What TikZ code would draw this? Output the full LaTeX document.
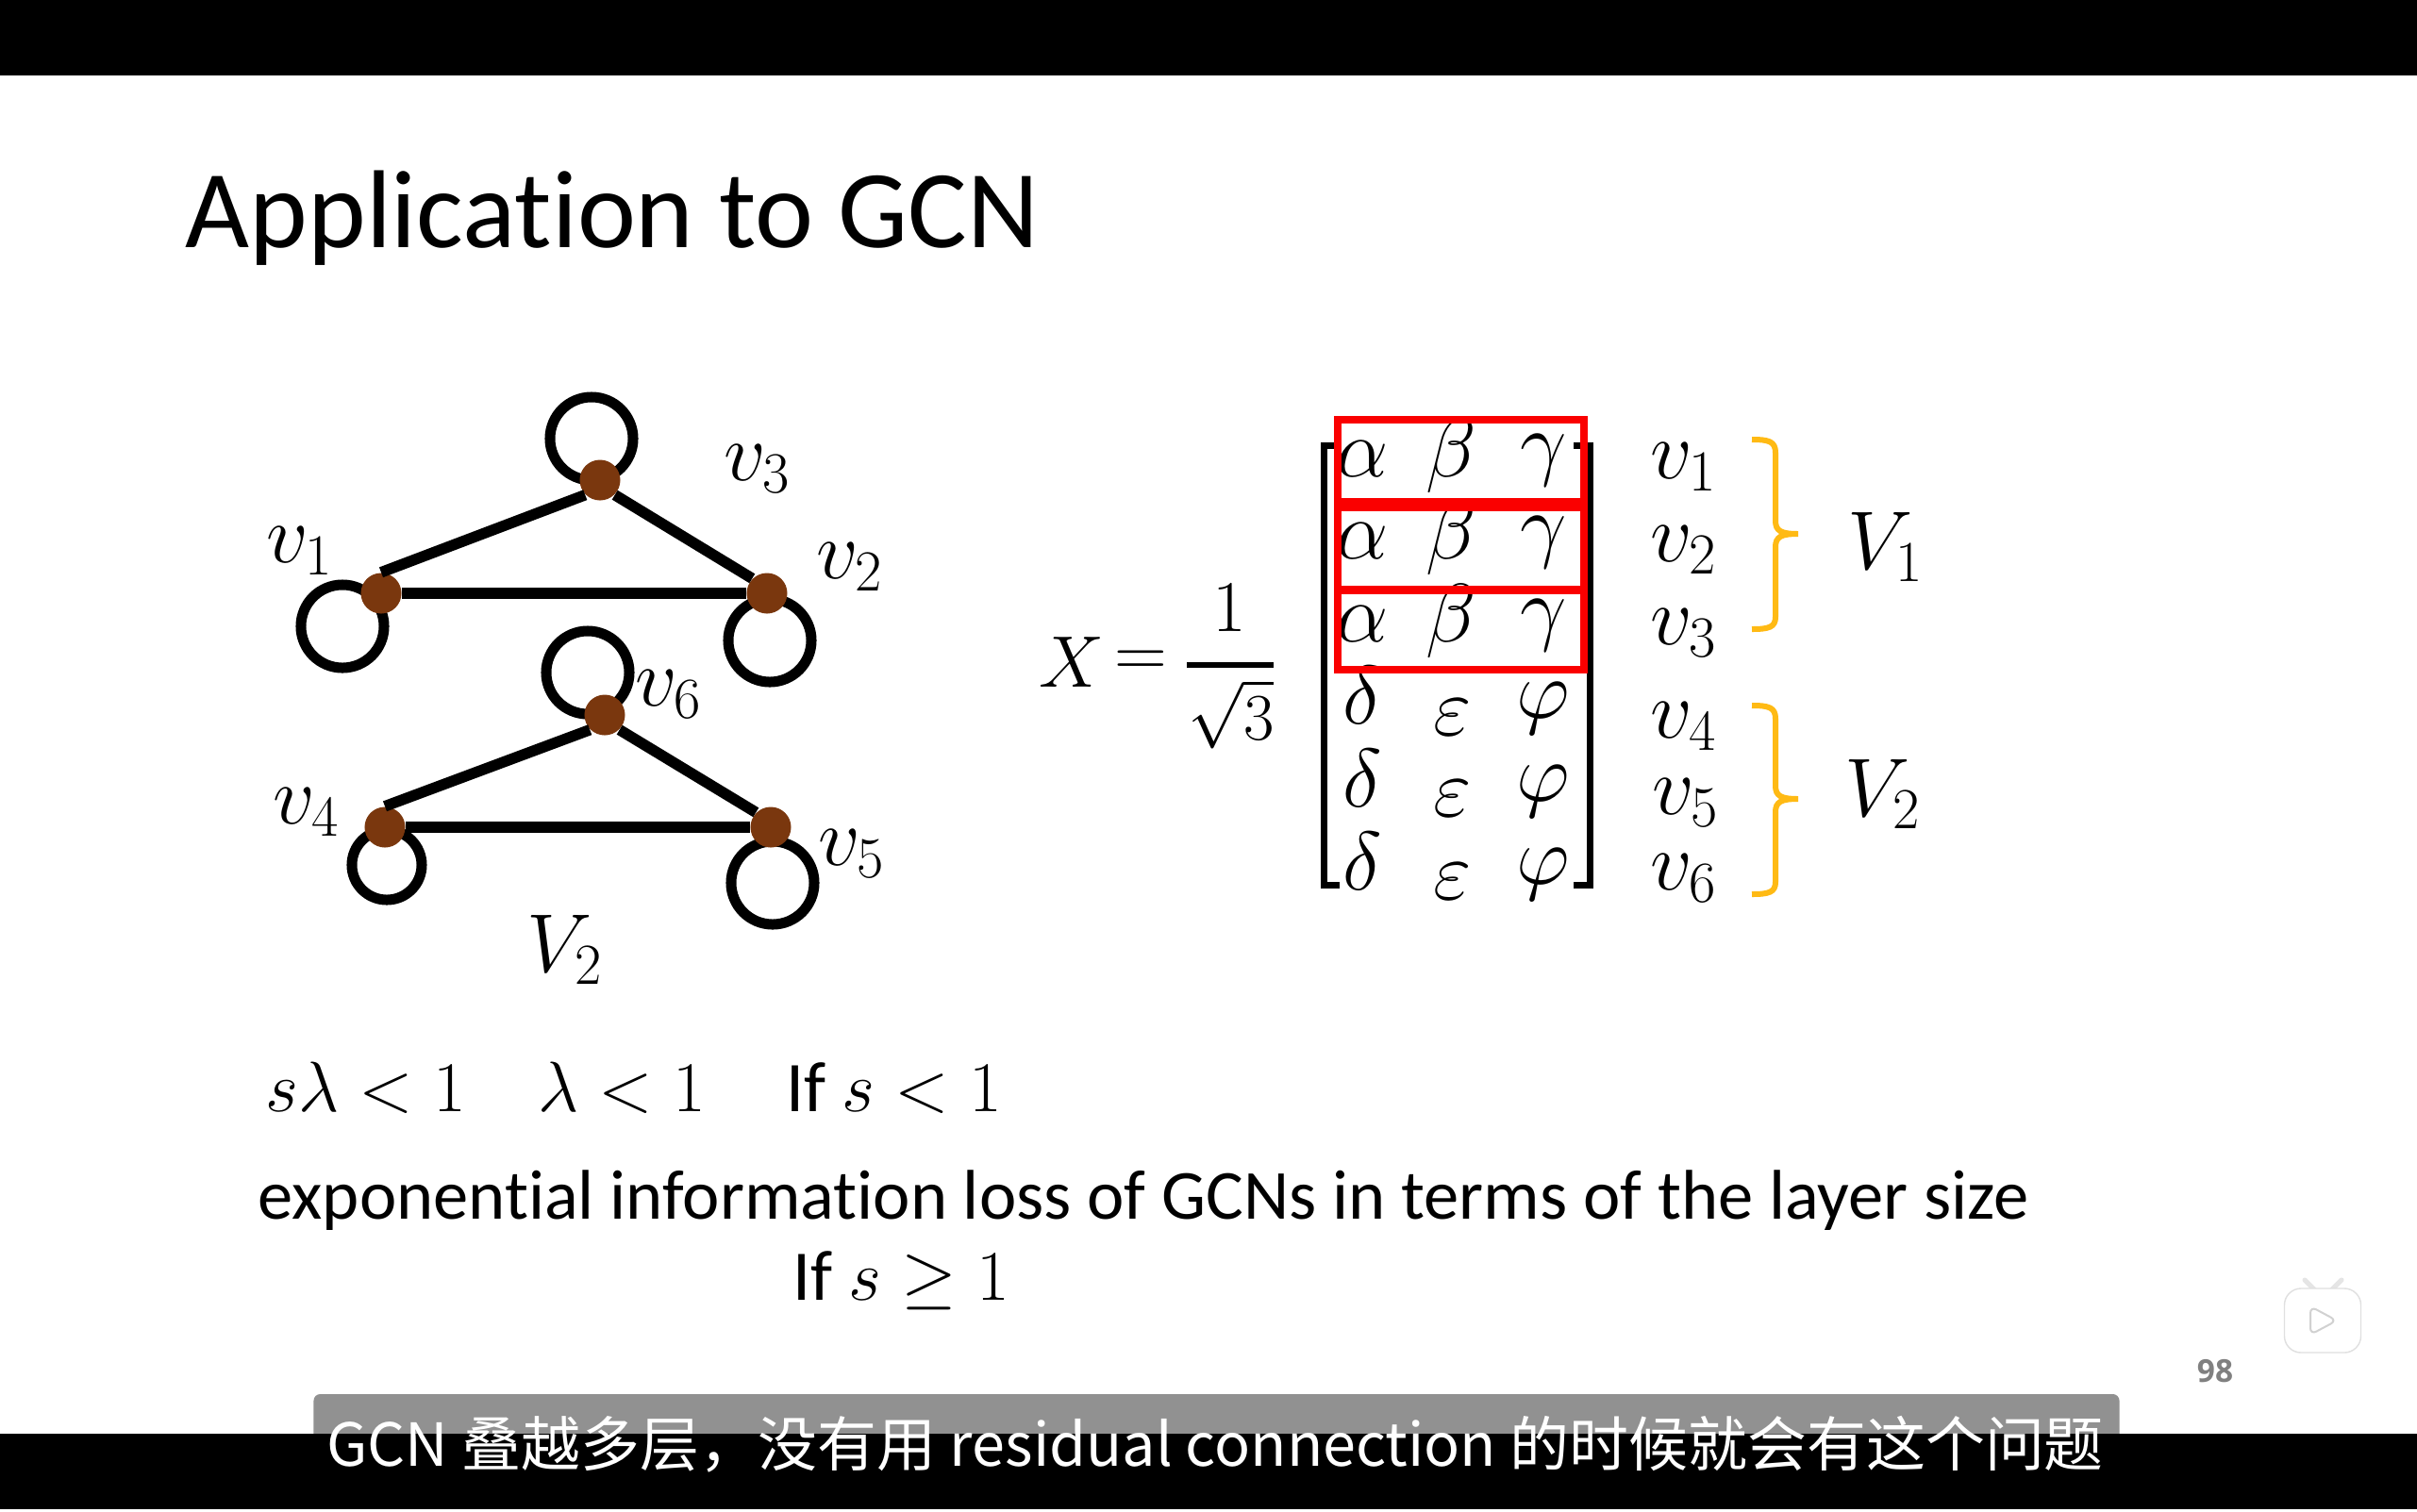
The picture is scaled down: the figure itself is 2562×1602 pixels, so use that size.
\documentclass[tikz,border=0pt]{standalone}
\usepackage{fix-cm}
\usepackage{amsmath}
\usepackage{fontspec}
\setmainfont{Carlito}[Ligatures=NoCommon]
\newfontfamily\cjk{Noto Sans CJK SC}
\newfontfamily\pagefont{Open Sans}
\usepackage{xcolor}
\usetikzlibrary{positioning}
\definecolor{vertexbrown}{RGB}{122,55,14}
\definecolor{boxred}{RGB}{250,0,0}
\definecolor{braceorange}{RGB}{255,186,20}

\begin{document}
\begin{tikzpicture}[
  x=0.01cm, y=-0.01cm,
  vertex/.style={circle, fill=vertexbrown, minimum size=0.43cm, inner sep=0},
  selfloop/.style={circle, draw, line width=0.11cm, inner sep=0},
  edge/.style={line width=0.115cm},
  lbl/.style={font=\fontsize{25}{30}\selectfont, inner sep=0},
  cell/.style={font=\fontsize{25}{30}\selectfont, inner sep=0, anchor=base},
  rowbox/.style={draw=boxred, line width=0.08cm, minimum width=2.61cm, inner sep=0},
  bracket/.style={line width=0.07cm},
  bracelabel/.style={draw=braceorange, line width=0.06cm},
  formula/.style={font=\fontsize{21.5}{26}\selectfont, inner sep=0, anchor=base west},
  bar/.style={fill=black, inner sep=0, minimum width=25.62cm}
]
\useasboundingbox (0,0) rectangle (2562,1602);

%% Video bars
\node[fill=white, minimum width=25.62cm, minimum height=16.02cm, inner sep=0] (slide) at (1281,801) {};
\node[bar, minimum height=0.80cm] (topbar) at (1281,40) {};
\node[fill=black!43, rounded corners=2pt, minimum width=19.13cm, minimum height=0.60cm, inner sep=0] (subbox) at (1289.5,1508) {};
\node[bar, minimum height=0.80cm] (botbar) at (1281,1560) {};

%% Title
\node[font=\fontsize{33.4}{40}\selectfont, inner sep=0, anchor=base west] (title) at (196,262) {Application to GCN};

%% Self loops
\node[selfloop, minimum size=0.88cm] (l3) at (627,465) {};
\node[selfloop, minimum size=0.88cm] (l1) at (363,664) {};
\node[selfloop, minimum size=0.88cm] (l2) at (816,679) {};
\node[selfloop, minimum size=0.88cm] (l6) at (623,713) {};
\node[selfloop, minimum size=0.74cm] (l4) at (410,917) {};
\node[selfloop, minimum size=0.88cm] (l5) at (819,936) {};

%% Vertices
\node[vertex] (v3) at (636,509) {};
\node[vertex] (v1) at (404,629) {};
\node[vertex] (v2) at (813,629) {};
\node[vertex] (v6) at (641,758) {};
\node[vertex] (v4) at (408,877) {};
\node[vertex] (v5) at (817,877) {};

%% Edges
\draw[edge] (v1.north) -- (v3.south west);
\draw[edge] (v3.south east) -- (v2.north west);
\draw[edge] (v1.east) -- (v2.west);
\draw[edge] (v4.north) -- (v6.south west);
\draw[edge] (v6.south east) -- (v5.north west);
\draw[edge] (v4.east) -- (v5.west);

%% Vertex labels
\node[lbl] (t3) at (803,497) {$v_3$};
\node[lbl] (t1) at (318,584) {$v_1$};
\node[lbl] (t2) at (901,601) {$v_2$};
\node[lbl] (t6) at (709,736) {$v_6$};
\node[lbl] (t4) at (325,861) {$v_4$};
\node[lbl] (t5) at (903,905) {$v_5$};
\node[lbl] (tv2) at (599,1007) {$V_2$};

%% Left side of the equation
\node[lbl, font=\fontsize{22}{26}\selectfont] (xsym) at (1136,702) {$X$};
\node[lbl, font=\fontsize{22}{26}\selectfont] (eqsign) at (1209,704) {$=$};
\node[fill=black, minimum width=0.92cm, minimum height=0.06cm, inner sep=0] (fracbar) at (1304,705) {};
\node[lbl, font=\fontsize{22}{26}\selectfont] (one) at (1303,645) {$1$};
\node[lbl, font=\fontsize{20}{24}\selectfont] (root) at (1305,757) {$\sqrt{3}$};

%% Matrix brackets
\node[inner sep=0] (bl1) at (1420,472) {};
\node[inner sep=0] (bl2) at (1403,472) {};
\node[inner sep=0] (bl3) at (1403,938) {};
\node[inner sep=0] (bl4) at (1420,938) {};
\node[inner sep=0] (br1) at (1668,472) {};
\node[inner sep=0] (br2) at (1685,472) {};
\node[inner sep=0] (br3) at (1685,938) {};
\node[inner sep=0] (br4) at (1668,938) {};
\draw[bracket] (bl1.center) -- (bl2.center) -- (bl3.center) -- (bl4.center);
\draw[bracket] (br1.center) -- (br2.center) -- (br3.center) -- (br4.center);

%% Matrix entries
\node[cell] (a1) at (1444,505) {$\alpha$};
\node[cell] (b1) at (1538,505) {$\beta$};
\node[cell] (c1) at (1636,498) {$\gamma$};
\node[cell] (a2) at (1444,592) {$\alpha$};
\node[cell] (b2) at (1538,592) {$\beta$};
\node[cell] (c2) at (1636,585) {$\gamma$};
\node[cell] (a3) at (1444,680) {$\alpha$};
\node[cell] (b3) at (1538,680) {$\beta$};
\node[cell] (c3) at (1636,673) {$\gamma$};
\node[cell] (d1) at (1444,767) {$\delta$};
\node[cell] (e1) at (1540,779) {$\varepsilon$};
\node[cell] (f1) at (1636,761) {$\varphi$};
\node[cell] (d2) at (1444,855) {$\delta$};
\node[cell] (e2) at (1540,865) {$\varepsilon$};
\node[cell] (f2) at (1636,849) {$\varphi$};
\node[cell] (d3) at (1444,943) {$\delta$};
\node[cell] (e3) at (1540,953) {$\varepsilon$};
\node[cell] (f3) at (1636,937) {$\varphi$};

%% Red boxes
\node[rowbox, minimum height=0.87cm] (box1) at (1548.5,488.5) {};
\node[rowbox, minimum height=0.87cm] (box2) at (1548.5,581.5) {};
\node[rowbox, minimum height=0.84cm] (box3) at (1548.5,668) {};

%% Row labels
\node[lbl] (r1) at (1785,495) {$v_1$};
\node[lbl] (r2) at (1785,583) {$v_2$};
\node[lbl] (r3) at (1785,671) {$v_3$};
\node[lbl] (r4) at (1785,770) {$v_4$};
\node[lbl] (r5) at (1787,851) {$v_5$};
\node[lbl] (r6) at (1785,931) {$v_6$};

%% Orange braces
\draw[bracelabel] (1857,466) .. controls (1875,466) and (1882,468) .. (1882,480) -- (1882,552)
  .. controls (1882,563) and (1888,566) .. (1906,566) .. controls (1888,566) and (1882,569) .. (1882,580)
  -- (1882,654) .. controls (1882,665) and (1875,667) .. (1857,667);
\draw[bracelabel] (1857,748) .. controls (1875,748) and (1882,750) .. (1882,762) -- (1882,833)
  .. controls (1882,844) and (1888,847) .. (1906,847) .. controls (1888,847) and (1882,850) .. (1882,861)
  -- (1882,935) .. controls (1882,946) and (1875,948) .. (1857,948);
\node[lbl] (g1) at (1999,580) {$V_1$};
\node[lbl] (g2) at (1996,842) {$V_2$};

%% Conditions
\node[formula] (cond1) at (281,1178) {$s\lambda<1$};
\node[formula] (cond2) at (570,1178) {$\lambda<1$};
\node[formula] (cond3) at (833,1178) {If $s<1$};
\node[font=\fontsize{21.2}{26}\selectfont, inner sep=0, anchor=base west] (loss) at (273,1292) {exponential information loss of GCNs in terms of the layer size};
\node[formula] (cond4) at (840,1378) {If $s\geq 1$};

%% Page number and player icon
\node[font=\pagefont\fontsize{9.5}{11}\selectfont\bfseries, text=black!50, inner sep=0] (pageno) at (2348,1454) {98};
\draw[black!10, line width=0.05cm, line cap=round] (2443,1357) -- (2454,1368);
\draw[black!10, line width=0.05cm, line cap=round] (2482,1357) -- (2471,1368);
\node[draw=black!12, fill=white, rounded corners=5pt, minimum width=0.81cm, minimum height=0.68cm, inner sep=0] (tv) at (2462,1400) {};
\draw[black!18, line width=0.02cm, rounded corners=2pt] (2449,1385) -- (2477,1400) -- (2449,1415) -- cycle;

%% Subtitle
\node[font=\cjk\fontsize{17.9}{22}\selectfont, text=white, inner sep=0] (sub) at (1288,1531) {GCN 叠越多层\char"FF0C 没有用 residual connection 的时候就会有这个问题};
\end{tikzpicture}
\end{document}
